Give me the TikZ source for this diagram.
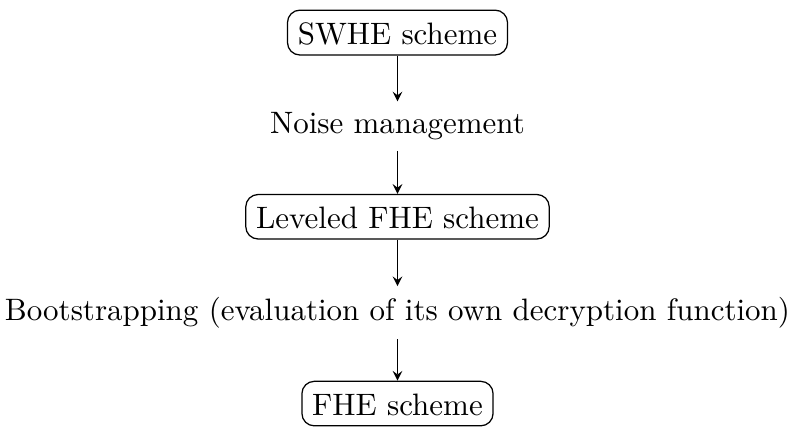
\documentclass[tikz,border=0pt]{standalone}
\usetikzlibrary{arrows}
\begin{document}
\begin{tikzpicture}[x=1pt,y=1pt,>=stealth,
  schemebox/.style={draw,rounded corners=4pt,anchor=base,inner sep=3.33pt,text height=7.6pt},
  steptext/.style={anchor=base,inner sep=3.33pt},
  flow/.style={->}]
\useasboundingbox (-128.3,0) rectangle (128.3,-137.5);
\node[schemebox] (swhe) at (0,-14.2) {SWHE scheme};
\node[steptext] (noise) at (0,-43.1) {Noise management};
\node[schemebox] (lev) at (0,-73.7) {Leveled FHE scheme};
\node[steptext] (boot) at (0,-103.4) {Bootstrapping (evaluation of its own decryption function)};
\node[schemebox] (fhe) at (0,-134.0) {FHE scheme};
\draw[flow] (swhe) -- (noise);
\draw[flow] (noise) -- (lev);
\draw[flow] (lev) -- (boot);
\draw[flow] (boot) -- (fhe);
\end{tikzpicture}
\end{document}
